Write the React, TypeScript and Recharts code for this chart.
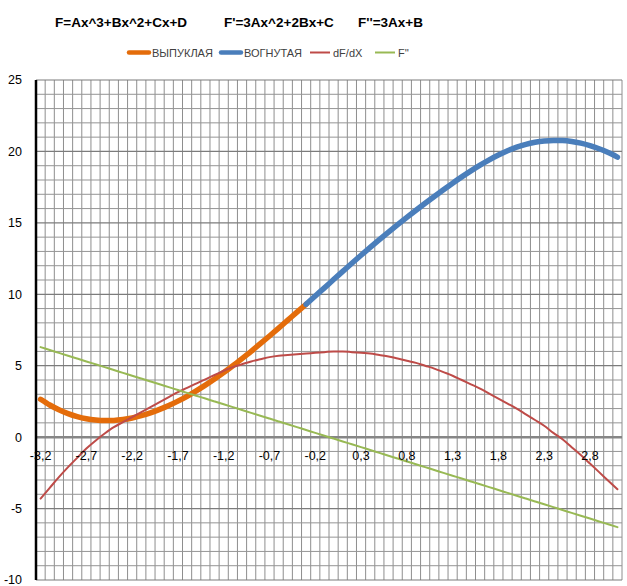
import React from "react";
import { LineChart, Line, XAxis, YAxis, ReferenceLine } from "recharts";

// x from -3.2 to 3.1, step 0.1
const X_VALUES = [
  -3.2, -3.1, -3.0, -2.9, -2.8, -2.7, -2.6, -2.5, -2.4, -2.3, -2.2, -2.1, -2.0, -1.9, -1.8, -1.7,
  -1.6, -1.5, -1.4, -1.3, -1.2, -1.1, -1.0, -0.9, -0.8, -0.7, -0.6, -0.5, -0.4, -0.3, -0.2, -0.1,
  0.0, 0.1, 0.2, 0.3, 0.4, 0.5, 0.6, 0.7, 0.8, 0.9, 1.0, 1.1, 1.2, 1.3, 1.4, 1.5,
  1.6, 1.7, 1.8, 1.9, 2.0, 2.1, 2.2, 2.3, 2.4, 2.5, 2.6, 2.7, 2.8, 2.9, 3.0, 3.1,
];

// F on x = -3.2 .. -0.3
const CONVEX_F = [
  2.65, 2.25, 1.92, 1.65, 1.44, 1.29, 1.2, 1.16, 1.17, 1.23, 1.34, 1.5, 1.7, 1.94, 2.21, 2.52,
  2.86, 3.24, 3.64, 4.07, 4.52, 5.0, 5.5, 6.01, 6.54, 7.08, 7.63, 8.19, 8.75, 9.3,
];

// F on x = -0.3 .. 3.1
const CONCAVE_F = [
  9.3, 9.88, 10.45, 11.03, 11.6, 12.17, 12.73, 13.28, 13.82, 14.35, 14.87, 15.38, 15.88, 16.37,
  16.85, 17.32, 17.78, 18.22, 18.64, 19.04, 19.41, 19.75, 20.05, 20.3, 20.5, 20.64, 20.73, 20.77,
  20.76, 20.7, 20.58, 20.41, 20.19, 19.92, 19.6,
];
const CONCAVE_START = 29; // index of x = -0.3

const DERIV = [
  -4.3, -3.55, -2.8, -2.1, -1.45, -0.8, -0.25, 0.25, 0.7, 1.05, 1.4, 1.75, 2.1, 2.45, 2.8, 3.15,
  3.45, 3.75, 4.05, 4.35, 4.65, 4.9, 5.1, 5.3, 5.45, 5.6, 5.7, 5.75, 5.8, 5.85, 5.9, 5.95,
  6.0, 6.0, 5.95, 5.9, 5.85, 5.75, 5.65, 5.5, 5.35, 5.2, 5.0, 4.8, 4.55, 4.3, 4.0, 3.7,
  3.4, 3.05, 2.7, 2.35, 2.0, 1.6, 1.2, 0.8, 0.3, -0.15, -0.7, -1.25, -1.85, -2.45, -3.05, -3.65,
];

const SECOND = [
  6.3, 6.1, 5.9, 5.7, 5.5, 5.3, 5.1, 4.9, 4.7, 4.5, 4.3, 4.1, 3.9, 3.7, 3.5, 3.3,
  3.1, 2.9, 2.7, 2.5, 2.3, 2.1, 1.9, 1.7, 1.5, 1.3, 1.1, 0.9, 0.7, 0.5, 0.3, 0.1,
  -0.1, -0.3, -0.5, -0.7, -0.9, -1.1, -1.3, -1.5, -1.7, -1.9, -2.1, -2.3, -2.5, -2.7, -2.9, -3.1,
  -3.3, -3.5, -3.7, -3.9, -4.1, -4.3, -4.5, -4.7, -4.9, -5.1, -5.3, -5.5, -5.7, -5.9, -6.1, -6.3,
];

const X_LABEL_TICKS = [-3.2, -2.7, -2.2, -1.7, -1.2, -0.7, -0.2, 0.3, 0.8, 1.3, 1.8, 2.3, 2.8];
const Y_LABEL_TICKS = [-10, -5, 0, 5, 10, 15, 20, 25];
const Y_MIN = -10;
const Y_MAX = 25;

const TITLES = ["F=Ax^3+Bx^2+Cx+D", "F'=3Ax^2+2Bx+C", "F''=3Ax+B"];
const TITLE_X = [55, 224, 358];

const SERIES = [
  { key: "convex", name: "ВЫПУКЛАЯ", color: "#E46C0A", width: 5.5 },
  { key: "concave", name: "ВОГНУТАЯ", color: "#4A7EBB", width: 5.5 },
  { key: "deriv", name: "dF/dX", color: "#BE4B48", width: 2 },
  { key: "second", name: "F''", color: "#98B954", width: 2 },
];
const LEGEND_X = [127, 219, 308, 373];

const W = 627;
const H = 586;
const X_AXIS_H = 6;
const MARGIN = { top: 80, right: 5, bottom: 0, left: 0 };
const PLOT_H = H - MARGIN.top - MARGIN.bottom - X_AXIS_H;
const ZERO_Y = MARGIN.top + (PLOT_H * (Y_MAX - 0)) / (Y_MAX - Y_MIN);
const FONT = "'Liberation Sans', Arial, sans-serif";

const data = X_VALUES.map((x, i) => ({
  x,
  convex: i <= CONCAVE_START ? CONVEX_F[i] : null,
  concave: i >= CONCAVE_START ? CONCAVE_F[i - CONCAVE_START] : null,
  deriv: DERIV[i],
  second: SECOND[i],
}));

const round2 = (v: number) => Math.round(v * 100) / 100;
const xBounds = [...X_VALUES.map((x) => round2(x - 0.05)), round2(X_VALUES[X_VALUES.length - 1] + 0.05)];
const yGrid: number[] = [];
for (let v = Y_MIN; v <= Y_MAX; v++) yGrid.push(v);

const fmt = (v: number) => v.toFixed(1).replace(".", ",");

function ZeroAxisTick(props: any) {
  const { x, payload } = props;
  return (
    <text x={x} y={ZERO_Y + 23} textAnchor="middle" fontSize={12.5} fontFamily={FONT} fill="#000">
      {fmt(payload.value)}
    </text>
  );
}

export default function App() {
  return (
    <div style={{ position: "absolute", left: 0, top: 0, width: W, height: H, background: "#fff", fontFamily: FONT }}>
      <svg width={W} height={70} style={{ position: "absolute", left: 0, top: 0 }}>
        {TITLES.map((t, i) => (
          <text key={t} x={TITLE_X[i]} y={27} fontSize={13.5} fontWeight="bold" fontFamily={FONT} fill="#000">
            {t}
          </text>
        ))}
        {SERIES.map((s, i) => (
          <g key={s.key}>
            <line
              x1={LEGEND_X[i] + 2}
              x2={LEGEND_X[i] + 22}
              y1={52.5}
              y2={52.5}
              stroke={s.color}
              strokeWidth={s.width > 3 ? 4.5 : 2}
              strokeLinecap={s.width > 3 ? "round" : "butt"}
            />
            <text x={LEGEND_X[i] + 25} y={56.5} fontSize={11} fontFamily={FONT} fill="#404040">
              {s.name}
            </text>
          </g>
        ))}
      </svg>
      <div style={{ position: "absolute", left: 0, top: 0 }}>
        <LineChart width={W} height={H} data={data} margin={MARGIN}>
          <XAxis
            dataKey="x"
            type="number"
            domain={[-3.25, 3.15]}
            ticks={X_LABEL_TICKS}
            interval={0}
            axisLine={false}
            tickLine={false}
            height={X_AXIS_H}
            tick={ZeroAxisTick}
            allowDataOverflow
          />
          <YAxis
            type="number"
            domain={[Y_MIN, Y_MAX]}
            ticks={Y_LABEL_TICKS}
            interval={0}
            width={36}
            axisLine={{ stroke: "#000", strokeWidth: 2.5 }}
            tickLine={false}
            tickSize={6}
            tickMargin={8}
            tick={{ fontSize: 12.5, fill: "#000", fontFamily: FONT }}
            allowDataOverflow
          />
          {xBounds.map((b) => (
            <ReferenceLine key={`v${b}`} x={b} stroke="#8e8e8e" strokeWidth={1} ifOverflow="visible" />
          ))}
          {yGrid
            .filter((v) => v % 5 !== 0)
            .map((v) => (
              <ReferenceLine key={`h${v}`} y={v} stroke="#959595" strokeWidth={1} ifOverflow="visible" />
            ))}
          {yGrid
            .filter((v) => v % 5 === 0 && v !== 0)
            .map((v) => (
              <ReferenceLine key={`H${v}`} y={v} stroke="#7c7c7c" strokeWidth={1.2} ifOverflow="visible" />
            ))}
          <ReferenceLine y={0} stroke="#868686" strokeWidth={2.5} ifOverflow="visible" />
          {SERIES.map((s) => (
            <Line
              key={s.key}
              dataKey={s.key}
              name={s.name}
              type="monotone"
              stroke={s.color}
              strokeWidth={s.width}
              strokeLinecap="round"
              strokeLinejoin="round"
              dot={false}
              activeDot={false}
              connectNulls={false}
              isAnimationActive={false}
            />
          ))}
        </LineChart>
      </div>
    </div>
  );
}
